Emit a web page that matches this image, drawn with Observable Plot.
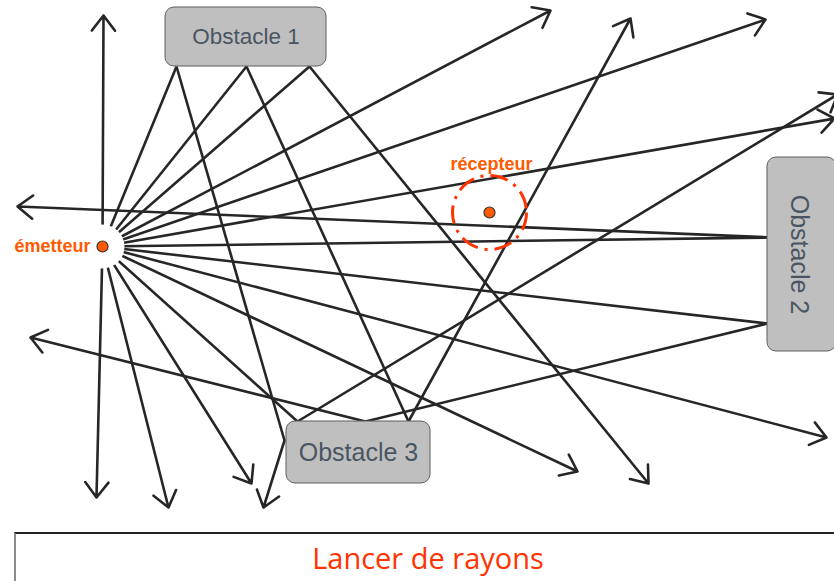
<!DOCTYPE html>
<html><head><meta charset="utf-8">
<script src="https://cdn.jsdelivr.net/npm/d3@7"></script>
<script src="https://cdn.jsdelivr.net/npm/@observablehq/plot@0.6"></script>
<style>
body{margin:0;background:#fff;width:834px;height:581px;overflow:hidden;position:relative;}
#title{position:absolute;left:14px;top:532px;width:830px;height:60px;border-top:2px solid #222;border-left:2px solid #8c8c8c;box-sizing:border-box;padding-right:4px;text-align:center;color:#ff3300;font-family:"Open Sans",sans-serif;font-size:29px;line-height:48px;}
</style></head><body>
<div id="chart"></div>
<div id="title">Lancer de rayons</div>
<script>
// Positions (pixel space of the diagram)
const emitter = {label: "émetteur", x: 102, y: 246};
const receiver = {label: "récepteur", x: 489, y: 212, zone: 37};

const obstacleNames = ["Obstacle 1", "Obstacle 2", "Obstacle 3"];
const obstacleX1 = [165, 767, 286];
const obstacleX2 = [326, 836, 430];
const obstacleY1 = [7, 157, 421];
const obstacleY2 = [66, 351, 483];
const obstacleTextSize = [22.5, 25, 25];
const obstacleTextRotate = [0, 90, 0];

// Each ray: list of [x, y] points after the emitter (bounces, then arrow tip)
const rays = [
  [[103, 15]],
  [[176, 66], [284, 440], [263, 507]],
  [[246, 66], [408, 421], [630, 18]],
  [[309, 66], [648, 483]],
  [[550, 10]],
  [[765, 19]],
  [[834, 118]],
  [[772, 237], [17, 206]],
  [[767, 323], [365, 421], [30, 337]],
  [[826, 437]],
  [[577, 471]],
  [[297, 421], [837, 94]],
  [[251, 483]],
  [[168, 507]],
  [[96, 497]]
];

const obstacles = obstacleNames.map((name, i) => ({
  name, x1: obstacleX1[i], x2: obstacleX2[i], y1: obstacleY1[i], y2: obstacleY2[i],
  cx: (obstacleX1[i] + Math.min(obstacleX2[i], 834)) / 2 - (i === 1 ? 2 : 0),
  cy: (obstacleY1[i] + obstacleY2[i]) / 2,
  size: obstacleTextSize[i], rotate: obstacleTextRotate[i]
}));

const segs = [];
rays.forEach((pts, i) => {
  const all = [[emitter.x, emitter.y], ...pts];
  for (let k = 0; k < all.length - 1; k++) {
    segs.push({ray: i, x1: all[k][0], y1: all[k][1], x2: all[k + 1][0], y2: all[k + 1][1], last: k === all.length - 2});
  }
});

const W = 834, H = 522;
const rayColor = "#262626";
const labelFont = "Liberation Sans, Arial, sans-serif";
const chart = Plot.plot({
  width: W, height: H, margin: 0,
  x: {domain: [0, W], range: [0, W], axis: null},
  y: {domain: [0, H], range: [0, H], axis: null},
  style: {background: "white", overflow: "hidden"},
  marks: [
    Plot.link(segs.filter(d => !d.last), {x1: "x1", y1: "y1", x2: "x2", y2: "y2", stroke: rayColor, strokeWidth: 2.6}),
    Plot.arrow(segs.filter(d => d.last), {x1: "x1", y1: "y1", x2: "x2", y2: "y2", stroke: rayColor, strokeWidth: 2.6, headLength: 11, headAngle: 75}),
    Plot.rect(obstacles, {x1: "x1", x2: "x2", y1: "y1", y2: "y2", fill: "#bfbfbf", stroke: "#5f5f5f", strokeWidth: 1, rx: 9}),
    Plot.text(obstacles, {x: "cx", y: "cy", text: "name", fontSize: d => d.size, rotate: "rotate", fill: "#4a5562", fontFamily: labelFont}),
    Plot.dot([emitter], {x: "x", y: "y", r: 22, fill: "white", stroke: "none"}),
    Plot.dot([receiver], {x: "x", y: "y", r: receiver.zone, fill: "none", stroke: "#ff3300", strokeWidth: 3, strokeDasharray: "18,7,3,7"}),
    Plot.dot([emitter, receiver], {x: "x", y: "y", r: 5.5, fill: "#ff5a00", stroke: "#333", strokeWidth: 1.2}),
    Plot.text([emitter], {x: d => d.x - 12, y: "y", text: "label", textAnchor: "end", fontSize: 18, fontWeight: "bold", fill: "#ff5a00", fontFamily: labelFont, letterSpacing: "-0.3px"}),
    Plot.text([receiver], {x: d => d.x + 2, y: d => d.y - 48, text: "label", textAnchor: "middle", fontSize: 18, fontWeight: "bold", fill: "#ff5a00", fontFamily: labelFont, letterSpacing: "-0.3px"})
  ]
});
document.getElementById("chart").append(chart);
</script></body></html>
